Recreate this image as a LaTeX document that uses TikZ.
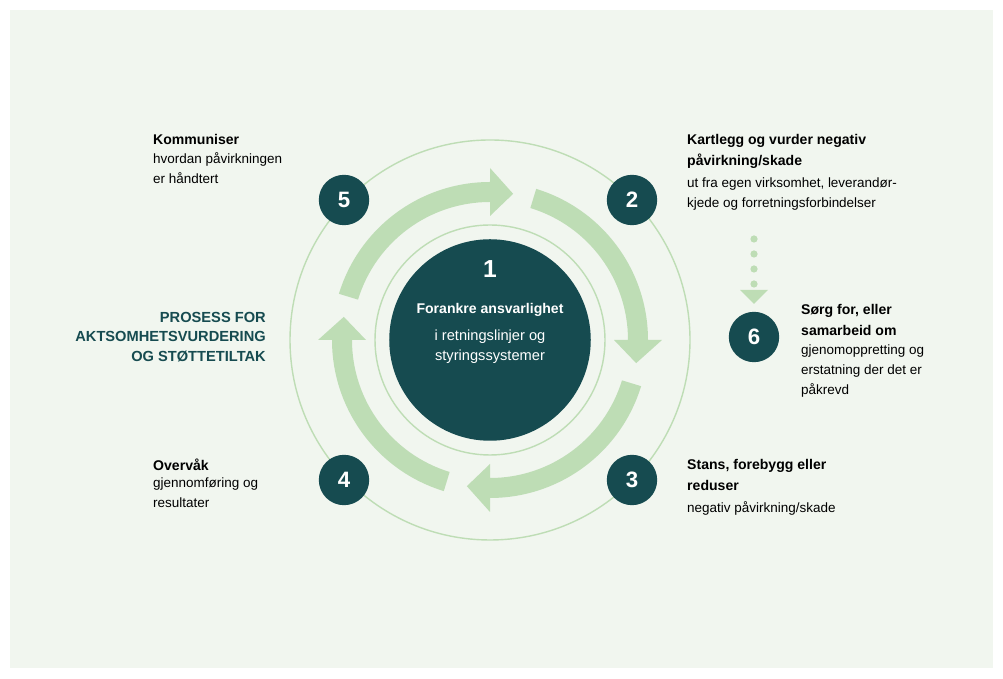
\documentclass[tikz,border=0pt]{standalone}
\usepackage{fontspec}
\setmainfont{Liberation Sans}
\usetikzlibrary{positioning}
\definecolor{bgGreen}{HTML}{F1F6EF}
\definecolor{ringGreen}{HTML}{BEDDB5}
\definecolor{darkTeal}{HTML}{164B50}
\tikzstyle{numCirc}=[circle, fill=darkTeal, text=white, minimum size=43pt, inner sep=0pt, font=\fontsize{19}{19}\selectfont\bfseries]
\tikzstyle{stepHead}=[inner sep=0pt, align=left, font=\fontsize{12}{18}\selectfont\bfseries]
\tikzstyle{stepBody}=[inner sep=0pt, align=left, font=\fontsize{11.5}{17}\selectfont]
\tikzstyle{thinRing}=[draw=ringGreen, line width=1.2pt]
\begin{document}
\begin{tikzpicture}[x=0.03cm, y=0.03cm]
    \useasboundingbox (0,0) rectangle (1003,679);
    \fill[bgGreen] (10,11) rectangle (993,669);
    \begin{scope}[shift={(490,339)}]
        % rings
        \draw[thinRing] (0,0) circle (200);
        \draw[thinRing] (0,0) circle (115);
        \node[circle, fill=darkTeal, minimum size=172pt, inner sep=0pt] (core) at (0,0) {};
        % cycle arrows
        \foreach \a in {163,73,-17,-107} {
            \fill[ringGreen] (\a:138) arc[start angle=\a, end angle=\a-73, radius=138]
                -- (\a-73:124) -- (\a-82:148) -- (\a-73:172) -- (\a-73:158)
                arc[start angle=\a-73, end angle=\a, radius=158] -- cycle;
        }
    \end{scope}
    \node[text=white, font=\fontsize{21}{21}\selectfont\bfseries] (one) at (490,410) {1};
    \node[text=white, font=\fontsize{12}{14}\selectfont\bfseries] (coreHead) at (490,369) {Forankre ansvarlighet};
    \node[text=white, align=center, font=\fontsize{12.5}{17}\selectfont, below=5 of coreHead] (coreBody) {i retningslinjer og\\styringssystemer};
    % numbered steps
    \node[numCirc] (n5) at (344,479) {5};
    \node[numCirc] (n2) at (632,479) {2};
    \node[numCirc] (n3) at (632,199) {3};
    \node[numCirc] (n4) at (344,199) {4};
    \node[numCirc] (n6) at (754,342) {6};
    % dotted link 2 -> 6
    \foreach \y in {440,425,410,395} \fill[ringGreen] (754,\y) circle (3.6);
    \coordinate (dotEnd) at (754,375);
    \fill[ringGreen] (740,389) -- (768,389) -- (dotEnd) -- cycle;
    % texts
    \node[stepHead, anchor=north west] (h5) at (153,545) {Kommuniser};
    \node[stepBody, below=8 of h5.south west, anchor=north west] (b5) {hvordan påvirkningen\\er håndtert};
    \node[stepHead, anchor=north west] (h2) at (687,545) {Kartlegg og vurder negativ\\påvirkning/skade};
    \node[stepBody, below=9 of h2.south west, anchor=north west] (b2) {ut fra egen virksomhet, leverandør-\\kjede og forretningsforbindelser};
    \node[stepHead, anchor=north west] (h6) at (801,375) {Sørg for, eller\\samarbeid om};
    \node[stepBody, below=9 of h6.south west, anchor=north west] (b6) {gjenomoppretting og\\erstatning der det er\\påkrevd};
    \node[stepHead, anchor=north west] (h3) at (687,220) {Stans, forebygg eller\\reduser};
    \node[stepBody, below=11 of h3.south west, anchor=north west] (b3) {negativ påvirkning/skade};
    \node[stepHead, anchor=north west] (h4) at (153,220) {Overvåk};
    \node[stepBody, below=6 of h4.south west, anchor=north west] (b4) {gjennomføring og\\resultater};
    \node[anchor=east, align=right, text=darkTeal, inner sep=0pt, font=\fontsize{12.5}{16.5}\selectfont\bfseries] (title) at (266,342) {PROSESS FOR\\AKTSOMHETSVURDERING\\OG STØTTETILTAK};
\end{tikzpicture}
\end{document}
